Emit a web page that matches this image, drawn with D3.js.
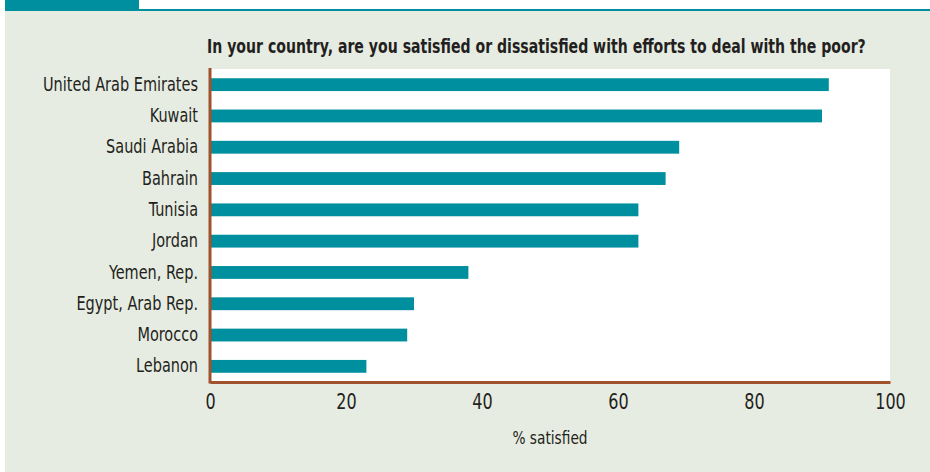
<!DOCTYPE html>
<html>
<head>
<meta charset="utf-8">
<script src="https://cdn.jsdelivr.net/npm/d3@7"></script>
<style>
  body { margin: 0; background: #ffffff; }
  svg { display: block; }
  text { font-family: "DejaVu Sans Condensed", "Liberation Sans Narrow", sans-serif; fill: #231f20; }
</style>
</head>
<body>
<div id="chart"></div>
<script>
let countries = ["United Arab Emirates", "Kuwait", "Saudi Arabia", "Bahrain", "Tunisia",
    "Jordan", "Yemen, Rep.", "Egypt, Arab Rep.", "Morocco", "Lebanon"];
let satisfied = [91, 90, 69, 67, 63, 63, 38, 30, 29, 23];
let xTicks = [0, 20, 40, 60, 80, 100];
let title = "In your country, are you satisfied or dissatisfied with efforts to deal with the poor?";
let xLabel = "% satisfied";

let width = 930;
let height = 472;
let margin = ({ top: 69, right: 40, bottom: 90, left: 210 });
let backgroundColor = "#e7ece2";
let barColor = "#008f9e";
let axisColor = "#a0522d";

let data = countries.map((c, i) => ({ country: c, value: satisfied[i] }));

// the original uses a narrow face, squeeze the glyphs horizontally to match
function squeeze(sel, factor) {
    sel.each(function () {
        let w = this.getComputedTextLength();
        d3.select(this)
            .attr("textLength", w * factor)
            .attr("lengthAdjust", "spacingAndGlyphs");
    });
}

const svg = d3.select("#chart").append("svg")
    .attr("width", width)
    .attr("height", height);

// page background and header strip
svg.append("rect")
    .attr("x", 5).attr("y", 0)
    .attr("width", width - 5).attr("height", height)
    .attr("fill", backgroundColor);
svg.append("rect")
    .attr("x", 5).attr("y", 0)
    .attr("width", width - 5).attr("height", 9)
    .attr("fill", "#ffffff");
svg.append("rect")
    .attr("x", 5).attr("y", 0)
    .attr("width", 134).attr("height", 11)
    .attr("fill", barColor);
svg.append("rect")
    .attr("x", 5).attr("y", 9)
    .attr("width", width - 5).attr("height", 2)
    .attr("fill", barColor);

let x = d3.scaleLinear()
    .domain([0, 100])
    .range([margin.left, width - margin.right]);
let y = d3.scaleBand()
    .domain(countries)
    .range([margin.top, height - margin.bottom])
    .paddingInner(0.59)
    .paddingOuter(0.295);

// plot area
svg.append("rect")
    .attr("x", margin.left)
    .attr("y", margin.top)
    .attr("width", width - margin.left - margin.right)
    .attr("height", height - margin.top - margin.bottom)
    .attr("fill", "#ffffff");

svg.append("g")
    .selectAll("rect")
    .data(data)
    .join("rect")
    .attr("x", x(0))
    .attr("y", d => y(d.country))
    .attr("width", d => x(d.value) - x(0))
    .attr("height", y.bandwidth())
    .attr("fill", barColor);

// y axis
const yAxis = svg.append("g")
    .attr("transform", `translate(${margin.left},0)`)
    .call(d3.axisLeft(y).tickSize(0).tickPadding(12))
    .call(g => g.select(".domain").attr("stroke", axisColor).attr("stroke-width", 3)
        .attr("d", `M0,${margin.top - 1}V${height - margin.bottom + 1.5}`))
    .call(g => g.selectAll(".tick text").attr("font-size", 19).attr("font-family", null));

let widest = d3.max(yAxis.selectAll(".tick text").nodes(), n => n.getComputedTextLength());
let factor = 155 / widest;
yAxis.selectAll(".tick text").call(squeeze, factor);

// x axis
svg.append("g")
    .attr("transform", `translate(0,${height - margin.bottom})`)
    .call(d3.axisBottom(x).tickValues(xTicks).tickSize(0).tickPadding(12))
    .call(g => g.select(".domain").attr("stroke", axisColor).attr("stroke-width", 3))
    .call(g => g.selectAll(".tick text").attr("font-size", 21).attr("font-family", null)
        .call(squeeze, factor));

// title, scaled with a transform so its box is the drawn one
const titleG = svg.append("g");
const titleText = titleG.append("text")
    .attr("font-size", 19)
    .attr("font-weight", "bold")
    .text(title);
let titleScale = 659 / titleText.node().getComputedTextLength();
titleG.attr("transform", `translate(207,53) scale(${titleScale},1)`);

svg.append("text")
    .attr("x", (margin.left + width - margin.right) / 2)
    .attr("y", 444)
    .attr("text-anchor", "middle")
    .attr("font-size", 18)
    .text(xLabel)
    .call(squeeze, factor);
</script>
</body>
</html>
